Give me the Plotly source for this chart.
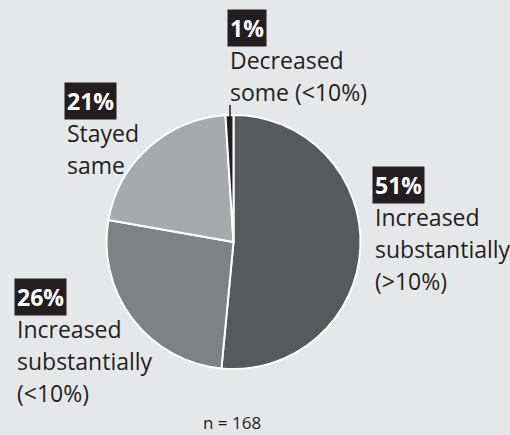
import plotly.graph_objects as go

labels = ["Increased substantially (>10%)", "Increased substantially (<10%)", "Stayed same", "Decreased some (<10%)"]
values = [51, 26, 21, 1]
colors = ["#58595b", "#808184", "#a7a9ac", "#231f20"]
pct_text = ["51%", "26%", "21%", "1%"]
label_lines = [["Increased", "substantially", "(>10%)"],
               ["Increased", "substantially", "(<10%)"],
               ["Stayed", "same"],
               ["Decreased", "some (<10%)"]]
# label anchor positions (paper px, left/top)
label_pos = [(372, 166), (14, 278), (64, 82), (227, 9)]

W, H = 510, 435
cx, cy, r = 233.5, 242, 127

fig = go.Figure(go.Pie(
    labels=labels, values=values, sort=False, direction="clockwise", rotation=0,
    marker=dict(colors=colors, line=dict(color="white", width=2)),
    textinfo="none", hoverinfo="label+value", showlegend=False,
    domain=dict(x=[(cx - r) / W, (cx + r) / W], y=[(H - cy - r) / H, (H - cy + r) / H]),
))

FONT = "Open Sans"
ann = []
for p, lines, (x, y) in zip(pct_text, label_lines, label_pos):
    ann.append(dict(x=x / W, y=1 - y / H, xref="paper", yref="paper", xanchor="left", yanchor="top",
                    text="<b>" + p + "</b>", showarrow=False, bgcolor="#231f20", borderpad=2,
                    font=dict(family=FONT, size=23, color="white")))
    for i, t in enumerate(lines):
        ann.append(dict(x=x / W, y=1 - (y + 32 + 32 * i) / H, xref="paper", yref="paper",
                        xanchor="left", yanchor="top", text=t, showarrow=False, align="left", borderpad=2,
                        font=dict(family=FONT, size=23, color="#231f20")))
ann.append(dict(x=232 / W, y=1 - 422 / H, xref="paper", yref="paper", xanchor="center", yanchor="middle",
                text="n = 168", showarrow=False, font=dict(family=FONT, size=17, color="#231f20")))

fig.update_layout(
    width=W, height=H, margin=dict(l=0, r=0, t=0, b=0),
    paper_bgcolor="#e6e7e8", plot_bgcolor="#e6e7e8",
    annotations=ann,
    shapes=[dict(type="line", xref="paper", yref="paper", x0=230 / W, x1=230 / W,
                 y0=1 - 105 / H, y1=1 - 122 / H, line=dict(color="#231f20", width=1.5))],
)
fig.write_html("out.html", config={"displayModeBar": False},
               post_script="document.body.style.margin='0';document.body.style.overflow='hidden';")
